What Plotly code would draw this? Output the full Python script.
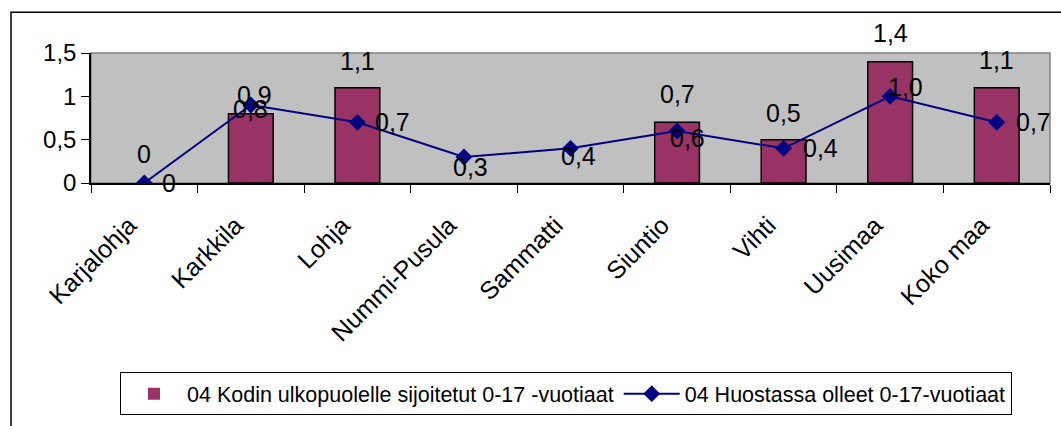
import plotly.graph_objects as go

categories = ["Karjalohja", "Karkkila", "Lohja", "Nummi-Pusula", "Sammatti",
              "Siuntio", "Vihti", "Uusimaa", "Koko maa"]
sijoitetut = [0, 0.8, 1.1, None, None, 0.7, 0.5, 1.4, 1.1]
huostassa = [0, 0.9, 0.7, 0.3, 0.4, 0.6, 0.4, 1.0, 0.7]
y_ticks = [0, 0.5, 1, 1.5]
series_names = ["04 Kodin ulkopuolelle sijoitetut 0-17 -vuotiaat",
                "04 Huostassa olleet 0-17-vuotiaat"]

# label offsets (pixels) - styling only
bar_label_shift = [29, 5, 27, 0, 0, 28, 27, 29, 28]
line_label_shift = [(25, 0), (4, 10), (35, 0), (7, -10), (8, -8),
                    (10, -7), (37, 0), (15, 9), (37, 0)]

FONT = "Liberation Sans, Arial, sans-serif"


def fmt(v):
    if v == 0:
        return "0"
    return f"{v:.1f}".replace(".", ",")


bar_border = [0 if (v is None or v == 0) else 1.5 for v in sijoitetut]

fig = go.Figure()
fig.add_trace(go.Bar(
    x=categories, y=sijoitetut, name=series_names[0],
    marker=dict(color="#993366", line=dict(color="black", width=bar_border)),
    width=0.42,
))
fig.add_trace(go.Scatter(
    x=categories, y=huostassa, name=series_names[1], mode="lines+markers",
    line=dict(color="#000080", width=2),
    marker=dict(symbol="diamond", size=13, color="#000080"),
))

annotations = []
for c, v, s in zip(categories, sijoitetut, bar_label_shift):
    if v is None:
        continue
    annotations.append(dict(x=c, y=v, xref="x", yref="y", text=fmt(v),
                            showarrow=False, yshift=s, xanchor="center",
                            yanchor="middle",
                            font=dict(family=FONT, size=25, color="black")))
for c, v, (dx, dy) in zip(categories, huostassa, line_label_shift):
    annotations.append(dict(x=c, y=v, xref="x", yref="y", text=fmt(v),
                            showarrow=False, xshift=dx, yshift=dy,
                            xanchor="center", yanchor="middle",
                            font=dict(family=FONT, size=25, color="black")))

L, R, T, B = 91, 11, 53, 239
W, H = 1061, 426
pw, ph = W - L - R, H - T - B


def px_x(p):
    return (p - L) / pw


def px_y(p):
    return (H - B - p) / ph


shapes = [
    # outer chart frame
    dict(type="rect", xref="paper", yref="paper",
         x0=px_x(11), x1=px_x(1070), y0=px_y(440), y1=px_y(11),
         line=dict(color="black", width=1.5), fillcolor="rgba(0,0,0,0)",
         layer="below"),
    # plot area border
    dict(type="rect", xref="paper", yref="paper", x0=0, x1=1, y0=0, y1=1,
         line=dict(color="#808080", width=1.5), fillcolor="rgba(0,0,0,0)",
         layer="below"),
]

fig.update_layout(
    width=W, height=H,
    margin=dict(l=L, r=R, t=T, b=B),
    paper_bgcolor="white", plot_bgcolor="#C0C0C0",
    separators=", ",
    font=dict(family=FONT, color="black"),
    showlegend=True,
    legend=dict(orientation="h", x=px_x(120), y=px_y(382),
                xanchor="left", yanchor="top",
                bgcolor="white", bordercolor="black", borderwidth=1,
                font=dict(family=FONT, size=21.5, color="black"),
                itemwidth=56, tracegroupgap=0),
    annotations=annotations,
    shapes=shapes,
)
fig.update_xaxes(
    type="category", showgrid=False, tickangle=-45,
    ticks="outside", tickson="boundaries", ticklen=8, tickcolor="black",
    showline=True, linecolor="black", linewidth=1.5,
    tickfont=dict(family=FONT, size=25, color="black"),
    ticklabelstandoff=16, ticklabelshift=-15,
    range=[-0.5, len(categories) - 0.5],
)
fig.update_yaxes(
    range=[0, 1.5], tickvals=y_ticks, showgrid=False, zeroline=False,
    ticks="outside", ticklen=8, tickcolor="black",
    showline=True, linecolor="black", linewidth=1.5,
    tickfont=dict(family=FONT, size=24, color="black"),
)

fig.write_html("out.html", config={"displayModeBar": False},
               post_script="document.body.style.margin='0';"
                           "document.body.style.overflow='hidden';")
